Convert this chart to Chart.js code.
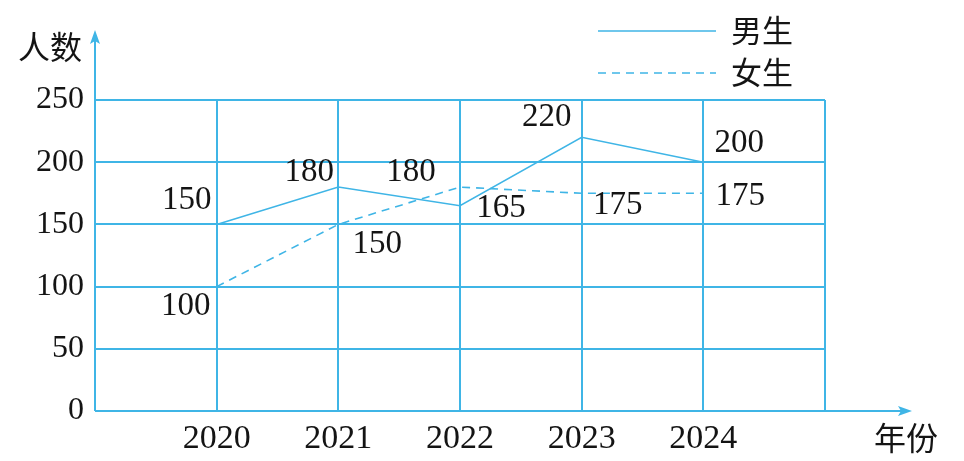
<!DOCTYPE html>
<html><head><meta charset="utf-8">
<script src="https://cdn.jsdelivr.net/npm/chart.js@4"></script>
<style>html,body{margin:0;padding:0;background:#fff}#wrap{width:964px;height:461px}</style>
</head><body><div id="wrap"><canvas id="c" width="964" height="461"></canvas></div>
<script>
const years = [2020, 2021, 2022, 2023, 2024];
const boys = [150, 180, 165, 220, 200];
const girls = [100, 150, 180, 175, 175];
const seriesNames = ['男生', '女生'];
const yTicks = [0, 50, 100, 150, 200, 250];
const xTitle = '年份';
const yTitle = '人数';

// label placement offsets (style only)
const boyLabelOffsets = [[-30,-24],[-29,-15],[41,3],[-35,-20],[36,-19]];
const girlLabelOffsets = [[-31,20],[39,20],[-49,-15],[36,12],[37,3]];

const BLUE = '#3fb5e6';
const INK = '#141414';
const SERIF = '"Liberation Serif", "Times New Roman", serif';
const NUMFONT = '33px ' + SERIF;
const CJKFONT = '31px "Noto Sans CJK SC", sans-serif';

const toPts = arr => arr.map((v, i) => ({x: years[i], y: v}));

const deco = {
  id: 'deco',
  afterDraw(chart) {
    const ctx = chart.ctx;
    const xs = chart.scales.x, ys = chart.scales.y;
    const x0 = xs.getPixelForValue(xs.min), y0 = ys.getPixelForValue(0);
    ctx.save();
    // axis extensions with arrows
    ctx.strokeStyle = BLUE; ctx.fillStyle = BLUE; ctx.lineWidth = 2;
    ctx.beginPath(); ctx.moveTo(x0, y0); ctx.lineTo(x0, 40); ctx.stroke();
    ctx.beginPath(); ctx.moveTo(x0, 30); ctx.lineTo(x0 - 5, 44); ctx.lineTo(x0, 41); ctx.lineTo(x0 + 5, 44); ctx.closePath(); ctx.fill();
    ctx.beginPath(); ctx.moveTo(x0, y0); ctx.lineTo(902, y0); ctx.stroke();
    ctx.beginPath(); ctx.moveTo(912, y0); ctx.lineTo(898, y0 - 5); ctx.lineTo(901, y0); ctx.lineTo(898, y0 + 5); ctx.closePath(); ctx.fill();

    // data labels
    ctx.fillStyle = INK; ctx.font = NUMFONT; ctx.textAlign = 'center'; ctx.textBaseline = 'middle';
    const offs = [boyLabelOffsets, girlLabelOffsets];
    chart.data.datasets.forEach((ds, di) => {
      const meta = chart.getDatasetMeta(di);
      meta.data.forEach((pt, i) => {
        const o = offs[di][i];
        ctx.fillText(String(ds.data[i].y), pt.x + o[0], pt.y + o[1]);
      });
    });

    // titles
    ctx.font = '32px "Noto Sans CJK SC", sans-serif';
    ctx.fillText(yTitle, 50, 47);
    ctx.fillText(xTitle, 906, 438);

    // legend
    chart.data.datasets.forEach((ds, di) => {
      const ly = 31 + di * 42;
      ctx.strokeStyle = ds.borderColor; ctx.lineWidth = 1.6;
      ctx.setLineDash(ds.borderDash || []);
      ctx.beginPath(); ctx.moveTo(598, ly); ctx.lineTo(716, ly); ctx.stroke();
      ctx.setLineDash([]);
      ctx.fillStyle = INK; ctx.font = CJKFONT; ctx.textAlign = 'left';
      ctx.fillText(ds.label, 731, ly - 1);
    });
    ctx.restore();
  }
};

new Chart(document.getElementById('c'), {
  type: 'line',
  data: {
    datasets: [
      {label: seriesNames[0], data: toPts(boys), borderColor: BLUE, borderWidth: 1.6, pointRadius: 0, tension: 0, fill: false},
      {label: seriesNames[1], data: toPts(girls), borderColor: BLUE, borderWidth: 1.6, borderDash: [8, 6], pointRadius: 0, tension: 0, fill: false}
    ]
  },
  options: {
    responsive: false,
    animation: false,
    devicePixelRatio: 1,
    layout: {padding: {top: 100, right: 139, left: 0, bottom: 0}},
    plugins: {legend: {display: false}, tooltip: {enabled: false}},
    scales: {
      x: {
        type: 'linear', min: 2019, max: 2025,
        afterFit: s => { s.height = 50; },
        grid: {color: BLUE, lineWidth: 2, drawTicks: false},
        border: {display: false},
        afterBuildTicks: s => { s.ticks = [2019].concat(years, [2025]).map(v => ({value: v})); },
        ticks: {autoSkip: false, maxRotation: 0, padding: 8, color: INK,
          font: {family: SERIF, size: 34},
          callback: v => years.includes(v) ? String(v) : ''}
      },
      y: {
        min: 0, max: 250,
        afterFit: s => { s.width = 95; },
        afterBuildTicks: s => { s.ticks = yTicks.map(v => ({value: v})); },
        grid: {color: BLUE, lineWidth: 2, drawTicks: false},
        border: {display: false},
        ticks: {padding: 11, color: INK,
          font: {family: SERIF, size: 32}}
      }
    }
  },
  plugins: [deco]
});
</script>
</body></html>
